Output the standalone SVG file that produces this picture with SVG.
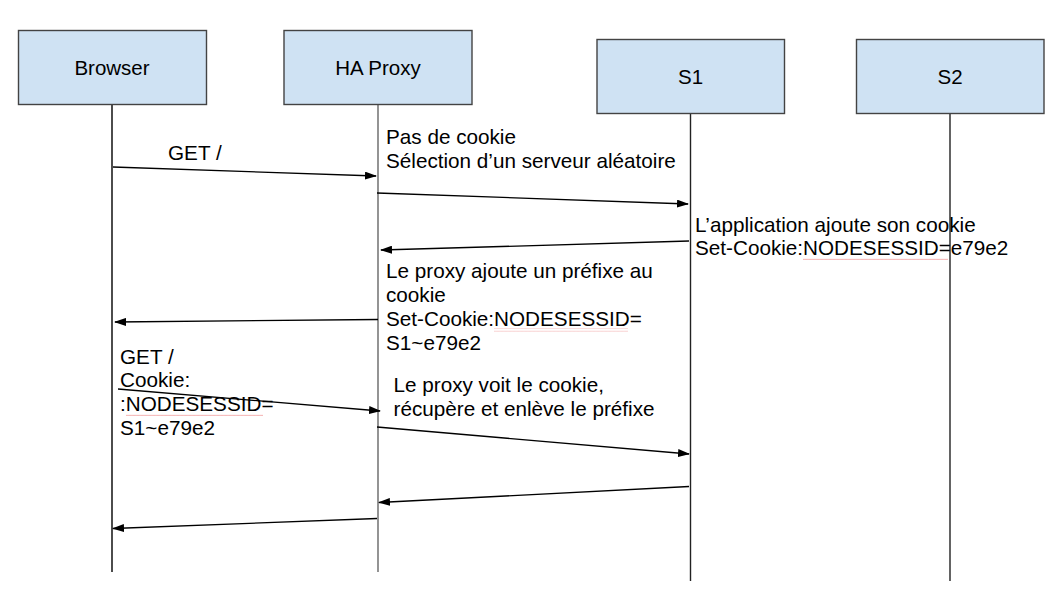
<svg xmlns="http://www.w3.org/2000/svg" width="1049" height="613" viewBox="0 0 1049 613">
<style>
.box{fill:#cfe2f3;stroke:#434343;stroke-width:1.4}
.lbl{font-family:"Liberation Sans",Arial,sans-serif;font-size:20.5px;fill:#000;text-anchor:middle}
.note{font-family:"Liberation Sans",Arial,sans-serif;font-size:20.7px;fill:#000}
.life{stroke:#222;stroke-width:1.4;fill:none}
.msg{stroke:#000;stroke-width:1.3;fill:none;marker-end:url(#ah)}
</style>
<defs>
<marker id="ah" viewBox="0 0 12 8" refX="11" refY="4" markerWidth="12" markerHeight="8" markerUnits="userSpaceOnUse" orient="auto">
<path d="M0,0 L12,4 L0,8 Z" fill="#000"/>
</marker>
<pattern id="wave" width="4" height="3" patternUnits="userSpaceOnUse">
<path d="M0,2 L1,0.8 L2,2 L3,0.8 L4,2" stroke="#e88" stroke-width="0.6" fill="none"/>
</pattern>
</defs>
<rect width="1049" height="613" fill="#fff"/>
<g id="lifelines">
<line class="life" x1="112" y1="104.5" x2="112" y2="572" style="stroke:#000"/>
<line class="life" x1="378" y1="104.5" x2="378" y2="572" style="stroke:#666"/>
<line class="life" x1="690.5" y1="113.5" x2="690.5" y2="581"/>
<line class="life" x1="950" y1="113.5" x2="950" y2="581"/>
</g>
<g id="browser">
<rect class="box" x="18.5" y="30.5" width="188" height="74"/>
<text class="lbl" x="112" y="75">Browser</text>
</g>
<g id="haproxy">
<rect class="box" x="284" y="30.5" width="188" height="74"/>
<text class="lbl" x="378" y="75">HA Proxy</text>
</g>
<g id="s1">
<rect class="box" x="597" y="39.5" width="187.5" height="74"/>
<text class="lbl" x="690.5" y="84">S1</text>
</g>
<g id="s2">
<rect class="box" x="856.5" y="39.5" width="187.5" height="74"/>
<text class="lbl" x="950" y="84">S2</text>
</g>
<g id="connectors">
<line class="msg" x1="113" y1="167" x2="376" y2="176"/>
<line class="msg" x1="377" y1="193" x2="688" y2="204"/>
<line class="msg" x1="689" y1="241" x2="381" y2="250"/>
<line class="msg" x1="378" y1="319.5" x2="115" y2="322"/>
<line class="msg" x1="118" y1="389" x2="380" y2="411"/>
<line class="msg" x1="377" y1="427" x2="689" y2="454"/>
<line class="msg" x1="689" y1="486.5" x2="379" y2="502.5"/>
<line class="msg" x1="377" y1="518.5" x2="113" y2="528.5"/>
</g>
<g id="labels">
<text class="note" x="168" y="159.5">GET /</text>
<text class="note" x="386" y="144">Pas de cookie</text>
<text class="note" x="386" y="168">Sélection d’un serveur aléatoire</text>
<text class="note" x="695" y="231.5">L’application ajoute son cookie</text>
<text class="note" x="695" y="254.5">Set-Cookie:NODESESSID=e79e2</text>
<text class="note" x="386" y="278">Le proxy ajoute un préfixe au</text>
<text class="note" x="386" y="302">cookie</text>
<text class="note" x="386" y="326">Set-Cookie:NODESESSID=</text>
<text class="note" x="386" y="349.5">S1~e79e2</text>
<text class="note" x="120" y="363.5">GET /</text>
<text class="note" x="120" y="387">Cookie:</text>
<text class="note" x="120" y="411">:NODESESSID=</text>
<text class="note" x="120" y="435">S1~e79e2</text>
<text class="note" x="393.5" y="392">Le proxy voit le cookie,</text>
<text class="note" x="393.5" y="416">récupère et enlève le préfixe</text>
</g>
<g id="spellcheck">
<rect x="803" y="257" width="145" height="3" fill="url(#wave)"/>
<rect x="494" y="328.5" width="134" height="3" fill="url(#wave)"/>
<rect x="126" y="414" width="137" height="3" fill="url(#wave)"/>
</g>
</svg>
